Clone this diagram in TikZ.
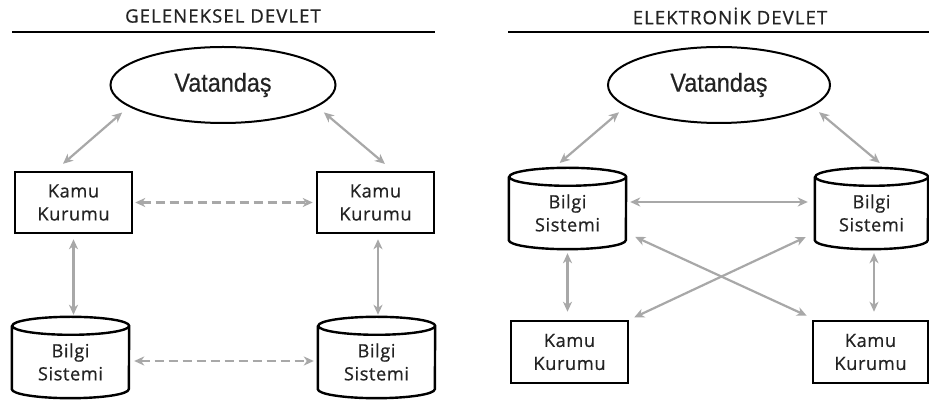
\documentclass[tikz,border=0pt]{standalone}
\usepackage{fontspec}
\setmainfont{Open Sans}[LetterSpace=3,FakeBold=0.6]
\newfontfamily\titlefont{Open Sans}[LetterSpace=6,FakeBold=0.8]
\newfontfamily\vfont{Liberation Sans}[FakeStretch=0.9,FakeBold=0.4]
\usetikzlibrary{shapes.geometric,arrows.meta,calc}
\definecolor{arrgray}{RGB}{168,168,168}
\definecolor{txt}{RGB}{35,35,35}
\tikzset{
 kbox/.style={draw, line width=2.5pt, minimum width=117pt, minimum height=61pt, inner sep=0pt, align=center, text=txt, font=\fontsize{18.3}{23}\selectfont},
 vat/.style={ellipse, draw, line width=2pt, minimum width=225pt, minimum height=76pt, inner sep=0pt, text=txt, font=\vfont\fontsize{26}{30}\selectfont},
 cylbox/.style={minimum width=117pt, minimum height=81pt, inner sep=0pt},
 cyltext/.style={align=center, text=txt, inner sep=0pt, font=\fontsize{18.3}{23}\selectfont},
 arr/.style={draw=arrgray, line width=2.2pt, {Stealth[length=10pt,width=9pt,inset=3pt]}-{Stealth[length=10pt,width=9pt,inset=3pt]}},
 dsh/.style={arr, dash pattern=on 9pt off 5pt},
 title/.style={text=txt, font=\titlefont\fontsize{18.5}{20}\selectfont},
 rule/.style={line width=1.8pt}
}
\newcommand\cylpath[2]{%
 \draw[line width=2.4pt] ([yshift=-9pt]#1.north west) -- ([yshift=9pt]#1.south west)
   arc[start angle=180, end angle=360, x radius=#2, y radius=9pt]
   -- ([yshift=-9pt]#1.north east)
   arc[start angle=0, end angle=360, x radius=#2, y radius=9pt];}
\begin{document}
\begin{tikzpicture}[x=1pt,y=1pt]
\useasboundingbox (0,0) rectangle (929,401);
\fill[white] (0,0) rectangle (929,401);
% left panel
\node[title] (t1) at (223,385) {GELENEKSEL DEVLET};
\draw[rule] (12,369) -- (435,369);
\node[vat] (V1) at (223,316) {Vatandaş};
\node[kbox] (K1) at (73.5,198.5) {Kamu\\Kurumu};
\node[kbox] (K2) at (375.5,198.5) {Kamu\\Kurumu};
\node[cylbox] (B1) at (70.5,43.5) {};
\node[cylbox] (B2) at (376.5,43.5) {};
\cylpath{B1}{58.5pt}
\cylpath{B2}{58.5pt}
\node[cyltext] (B1t) at ([yshift=-4.5pt]B1.center) {Bilgi\\Sistemi};
\node[cyltext] (B2t) at ([yshift=-4.5pt]B2.center) {Bilgi\\Sistemi};
% right panel
\node[title] (t2) at (730,385) {ELEKTRONİK DEVLET};
\draw[rule] (508,369) -- (929,369);
\node[vat, minimum width=222pt] (V2) at (719,316) {Vatandaş};
\node[cylbox] (B3) at (567.5,192.5) {};
\node[cylbox, minimum width=113pt] (B4) at (871.5,192.5) {};
\cylpath{B3}{58.5pt}
\cylpath{B4}{56.5pt}
\node[cyltext] (B3t) at ([yshift=-4.5pt]B3.center) {Bilgi\\Sistemi};
\node[cyltext] (B4t) at ([yshift=-4.5pt]B4.center) {Bilgi\\Sistemi};
\node[kbox, minimum height=62pt] (K3) at (569.5,49) {Kamu\\Kurumu};
\node[kbox, minimum height=62pt, minimum width=115pt] (K4) at (870.5,49) {Kamu\\Kurumu};
% connectors left
\draw[arr, shorten <=8.8pt, shorten >=10.6pt] (V1.193) -- ([xshift=-18.5pt]K1.north);
\draw[arr, shorten <=8.8pt, shorten >=10.6pt] (V1.347) -- ([xshift=17.5pt]K2.north);
\coordinate (k1s) at (K1.south);
\coordinate (k2s) at ([xshift=2.5pt]K2.south);
\draw[arr, shorten <=5pt, shorten >=2pt] (k1s) -- (k1s |- B1.north);
\draw[arr, shorten <=5pt, shorten >=2pt] (k2s) -- (k2s |- B2.north);
\draw[dsh, shorten <=2pt, shorten >=3pt] (K1.east) -- (K2.west);
\draw[dsh, shorten <=5pt, shorten >=4pt] ([yshift=-3.5pt]B1.east) -- ([yshift=-3.5pt]B2.west);
% connectors right
\draw[arr, shorten <=8.8pt, shorten >=7.5pt] (V2.193) -- ([xshift=-13.5pt]B3.north);
\draw[arr, shorten <=8.8pt, shorten >=7.5pt] (V2.347) -- ([xshift=14pt]B4.north);
\coordinate (b3s) at (B3.south);
\coordinate (b4s) at ([xshift=2.5pt]B4.south);
\draw[arr, shorten <=4pt, shorten >=8pt] (b3s) -- (b3s |- K3.north);
\draw[arr, shorten <=4pt, shorten >=8pt] (b4s) -- (b4s |- K4.north);
\draw[arr, shorten <=4pt, shorten >=7pt] ([yshift=6.5pt]B3.east) -- ([yshift=6.5pt]B4.west);
\draw[arr, shorten <=10pt, shorten >=5.5pt] ([yshift=-24.3pt]B3.east) -- ([yshift=1.7pt]K4.north west);
\draw[arr, shorten <=5.5pt, shorten >=10pt] (K3.north east) -- ([yshift=-24.3pt]B4.west);
\end{tikzpicture}
\end{document}
